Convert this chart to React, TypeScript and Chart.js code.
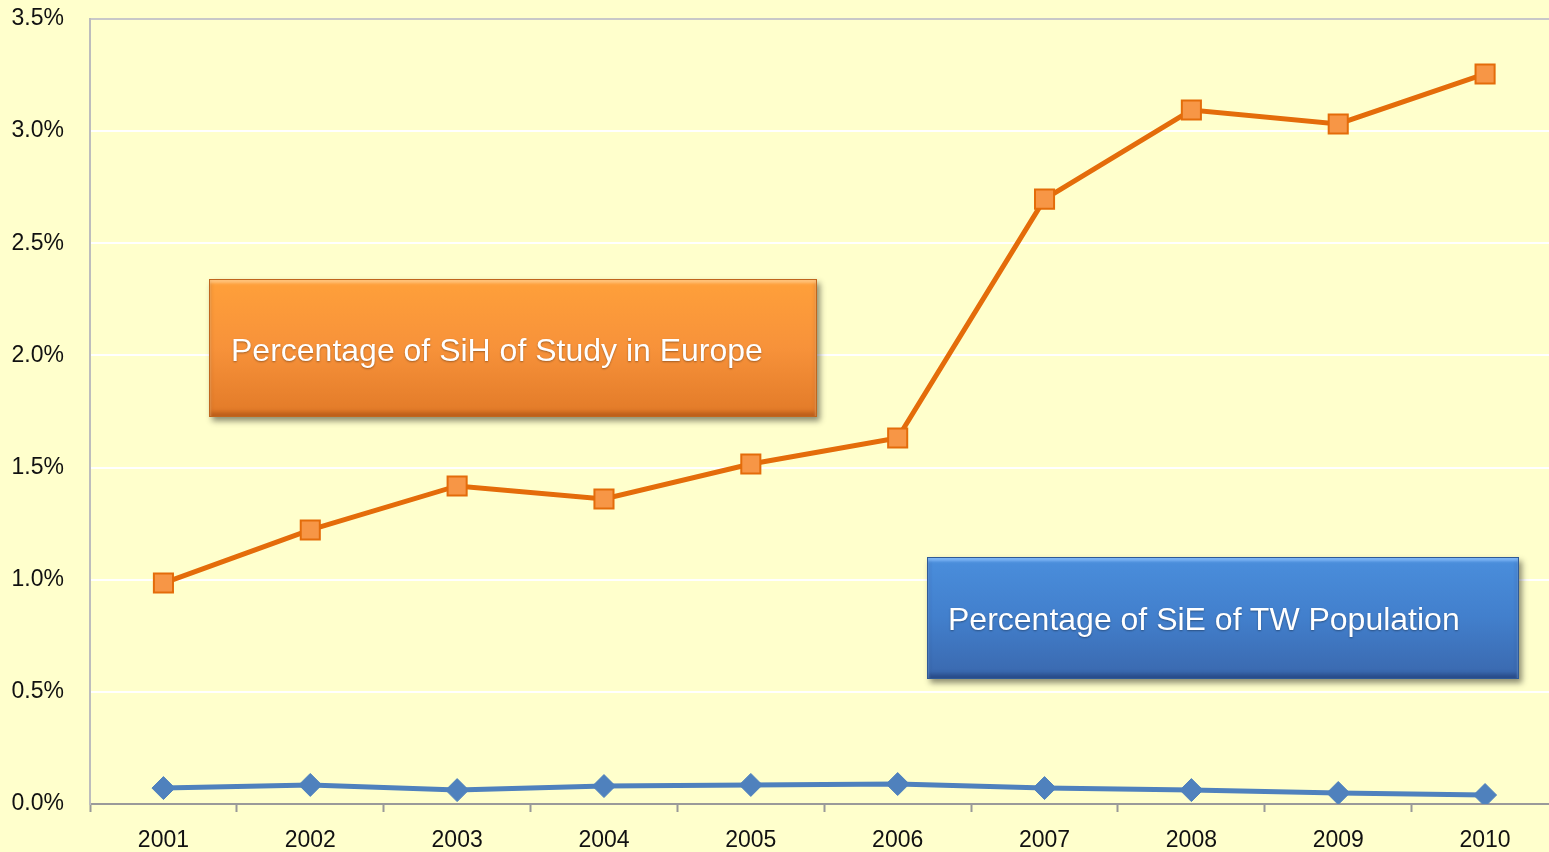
import React, { useEffect, useRef } from "react";
import { Chart, registerables } from "chart.js";

Chart.register(...registerables);

const years = ["2001", "2002", "2003", "2004", "2005", "2006", "2007", "2008", "2009", "2010"];
const sihEurope = [0.985, 1.222, 1.418, 1.36, 1.516, 1.632, 2.697, 3.094, 3.032, 3.255];
const sieTW = [0.071, 0.085, 0.062, 0.08, 0.085, 0.089, 0.071, 0.062, 0.049, 0.04];
const orangeLabel = "Percentage of SiH of Study in Europe";
const blueLabel = "Percentage of SiE of TW Population";

const BG = "#FFFFCC";

export default function App() {
  const ref = useRef<HTMLCanvasElement>(null);
  useEffect(() => {
    if (!ref.current) return;
    const chart = new Chart(ref.current, {
      type: "line",
      data: {
        labels: years,
        datasets: [
          {
            label: orangeLabel,
            data: sihEurope,
            borderColor: "#E46C0A",
            borderWidth: 5,
            pointStyle: "rect",
            pointRadius: 13.5,
            pointBackgroundColor: "#F79646",
            pointBorderColor: "#E46C0A",
            pointBorderWidth: 2,
            tension: 0,
          },
          {
            label: blueLabel,
            data: sieTW,
            borderColor: "#4F81BD",
            borderWidth: 5,
            pointStyle: "rectRot",
            pointRadius: 11.5,
            pointBackgroundColor: "#4F81BD",
            pointBorderColor: "#4F81BD",
            pointBorderWidth: 1,
            tension: 0,
          },
        ],
      },
      options: {
        animation: false,
        responsive: false,
        layout: { padding: { top: 19, right: 3, left: 0, bottom: 0 } },
        plugins: { legend: { display: false }, tooltip: { enabled: false } },
        scales: {
          x: {
            type: "category",
            offset: true,
            grid: {
              offset: true,
              drawOnChartArea: false,
              drawTicks: true,
              tickLength: 8,
              tickColor: "#999999",
              tickWidth: 2,
            },
            border: { color: "#9A9A9A", width: 2 },
            ticks: {
              font: { family: "Liberation Sans", size: 23 },
              color: "#111111",
              padding: 15,
              maxRotation: 0,
            },
            afterFit: (s: any) => {
              s.height = 48;
              s.paddingLeft = 0;
              s.paddingRight = 0;
            },
          },
          y: {
            min: 0,
            max: 3.5,
            grid: {
              drawTicks: false,
              lineWidth: 2,
              color: (ctx: any) =>
                ctx.tick && ctx.tick.value === 3.5 ? "#C8C8C8" : ctx.tick && ctx.tick.value === 0 ? "#9A9A9A" : "#FFFFFF",
            },
            border: { color: "#BDBDBD", width: 2 },
            ticks: {
              stepSize: 0.5,
              padding: 26,
              font: { family: "Liberation Sans", size: 23 },
              color: "#111111",
              callback: (v: any) => Number(v).toFixed(1) + "%",
            },
            afterFit: (s: any) => {
              s.width = 90;
              s.paddingTop = 0;
              s.paddingBottom = 0;
            },
          },
        },
      },
    });
    return () => chart.destroy();
  }, []);

  const boxBase: React.CSSProperties = {
    position: "absolute",
    boxSizing: "border-box",
    display: "flex",
    alignItems: "center",
    color: "#FFFFFF",
    fontFamily: "Liberation Sans, Arial, sans-serif",
    fontSize: 32,
    textShadow: "0 1px 2px rgba(0,0,0,0.35)",
    whiteSpace: "nowrap",
  };

  return (
    <div style={{ position: "fixed", left: 0, top: 0, width: 1549, height: 852, overflow: "hidden", background: BG }}>
      <canvas ref={ref} width={1574} height={852} style={{ position: "absolute", left: 0, top: 0, width: 1574, height: 852 }} />
      <div
        style={{
          ...boxBase,
          left: 209,
          top: 279,
          width: 608,
          height: 138,
          paddingLeft: 21,
          paddingTop: 4,
          background: "linear-gradient(to bottom, #FFA03A 0%, #F7923A 50%, #E27A28 100%)",
          border: "1px solid #C0661E",
          boxShadow: "inset 0 3px 3px rgba(255,210,150,0.7), inset 0 -4px 4px rgba(140,60,10,0.45), 3px 4px 6px rgba(0,0,0,0.45)",
        }}
      >
        {orangeLabel}
      </div>
      <div
        style={{
          ...boxBase,
          left: 927,
          top: 557,
          width: 592,
          height: 122,
          paddingLeft: 20,
          paddingTop: 3,
          background: "linear-gradient(to bottom, #4A8EDC 0%, #427FCC 50%, #3A68AE 100%)",
          border: "1px solid #2F5A96",
          boxShadow: "inset 0 3px 3px rgba(150,200,255,0.7), inset 0 -4px 4px rgba(20,40,90,0.45), 3px 4px 6px rgba(0,0,0,0.45)",
        }}
      >
        {blueLabel}
      </div>
    </div>
  );
}
